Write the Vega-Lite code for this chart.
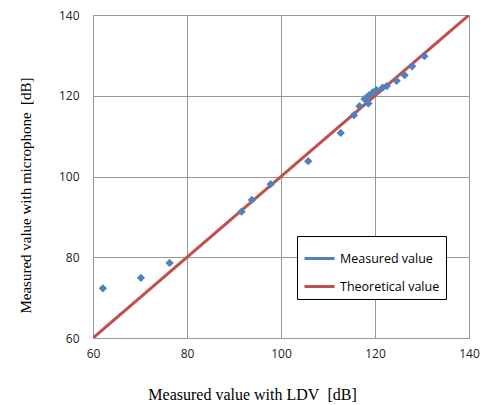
{
  "$schema": "https://vega.github.io/schema/vega-lite/v6.json",
  "width": 376,
  "height": 323,
  "autosize": {"type": "none"},
  "padding": {"left": 93, "top": 15, "right": 17, "bottom": 67},
  "background": "white",
  "config": {
    "view": {"stroke": "#888888", "strokeWidth": 1},
    "axis": {
      "grid": true, "gridColor": "#999999", "gridWidth": 1,
      "domain": false, "ticks": false, "labelFlush": false,
      "labelFont": "Open Sans", "labelFontSize": 12, "labelColor": "#222222",
      "titleFont": "Liberation Serif", "titleFontSize": 15, "titleFontWeight": "normal", "titleColor": "#000000"
    }
  },
  "datasets": {
    "measured": [
      {"ldv": 62.1, "mic": 72.3, "series": "Measured value"},
      {"ldv": 70.2, "mic": 74.9, "series": "Measured value"},
      {"ldv": 76.3, "mic": 78.6, "series": "Measured value"},
      {"ldv": 91.6, "mic": 91.3, "series": "Measured value"},
      {"ldv": 93.8, "mic": 94.2, "series": "Measured value"},
      {"ldv": 97.8, "mic": 98.1, "series": "Measured value"},
      {"ldv": 105.8, "mic": 103.8, "series": "Measured value"},
      {"ldv": 112.7, "mic": 110.8, "series": "Measured value"},
      {"ldv": 115.5, "mic": 115.2, "series": "Measured value"},
      {"ldv": 116.7, "mic": 117.4, "series": "Measured value"},
      {"ldv": 118.6, "mic": 118.1, "series": "Measured value"},
      {"ldv": 117.8, "mic": 119.2, "series": "Measured value"},
      {"ldv": 118.7, "mic": 120.1, "series": "Measured value"},
      {"ldv": 119.5, "mic": 120.8, "series": "Measured value"},
      {"ldv": 120.3, "mic": 121.4, "series": "Measured value"},
      {"ldv": 121.6, "mic": 122.0, "series": "Measured value"},
      {"ldv": 122.5, "mic": 122.4, "series": "Measured value"},
      {"ldv": 124.6, "mic": 123.7, "series": "Measured value"},
      {"ldv": 126.3, "mic": 125.1, "series": "Measured value"},
      {"ldv": 127.9, "mic": 127.3, "series": "Measured value"},
      {"ldv": 130.5, "mic": 129.8, "series": "Measured value"}
    ],
    "theory": [
      {"ldv": 60, "mic": 60, "series": "Theoretical value"},
      {"ldv": 140, "mic": 140, "series": "Theoretical value"}
    ]
  },
  "layer": [
    {
      "data": {"name": "theory"},
      "mark": {"type": "line", "strokeWidth": 3, "clip": true},
      "encoding": {
        "x": {"field": "ldv", "type": "quantitative"},
        "y": {"field": "mic", "type": "quantitative"},
        "color": {"field": "series", "type": "nominal"}
      }
    },
    {
      "data": {"name": "measured"},
      "mark": {"type": "point", "filled": true, "opacity": 1, "size": 70, "shape": "diamond"},
      "encoding": {
        "x": {
          "field": "ldv", "type": "quantitative",
          "scale": {"domain": [60, 140], "nice": false, "zero": false},
          "axis": {"values": [60, 80, 100, 120, 140], "title": "Measured value with LDV\u00a0\u00a0[dB]", "titleFontSize": 16, "labelPadding": 10, "titleX": 159, "titleY": 64, "titleBaseline": "bottom"}
        },
        "y": {
          "field": "mic", "type": "quantitative",
          "scale": {"domain": [60, 140], "nice": false, "zero": false},
          "axis": {"values": [60, 80, 100, 120, 140], "title": "Measured value with microphone\u00a0\u00a0[dB]", "labelPadding": 14, "titleX": -68, "titleY": 180, "titleBaseline": "middle"}
        },
        "color": {
          "field": "series", "type": "nominal",
          "scale": {"domain": ["Measured value", "Theoretical value"], "range": ["#4F81BD", "#C0504D"]},
          "legend": {
            "title": null,
            "orient": "none", "legendX": 204, "legendY": 221,
            "direction": "vertical",
            "strokeColor": "#000000", "fillColor": "#ffffff",
            "padding": 6, "rowPadding": 5,
            "labelFont": "Open Sans", "labelFontSize": 12.5, "labelColor": "#000000",
            "labelOffset": 4,
            "symbolSize": 900,
            "symbolStrokeWidth": 3
          }
        }
      }
    }
  ]
}
